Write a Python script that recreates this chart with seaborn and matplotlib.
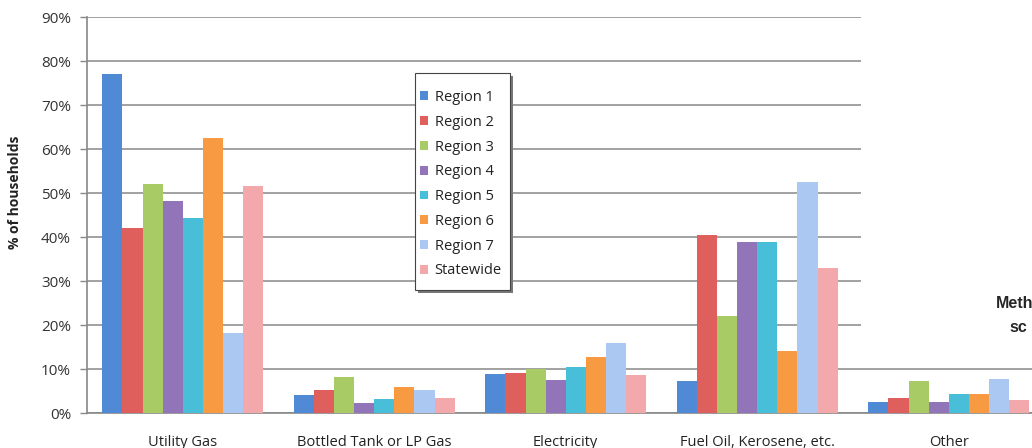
import pandas as pd
import matplotlib.pyplot as plt
import matplotlib.patches as mpatches
import seaborn as sns

categories = ["Utility Gas", "Bottled Tank or LP Gas", "Electricity",
              "Fuel Oil, Kerosene, etc.", "Other"]
series = ["Region 1", "Region 2", "Region 3", "Region 4",
          "Region 5", "Region 6", "Region 7", "Statewide"]

region1 = [77.1, 4.0, 8.9, 7.3, 2.5]
region2 = [42.0, 5.3, 9.1, 40.4, 3.4]
region3 = [52.0, 8.3, 10.1, 22.1, 7.2]
region4 = [48.3, 2.3, 7.6, 39.0, 2.5]
region5 = [44.3, 3.2, 10.5, 39.0, 4.4]
region6 = [62.6, 5.9, 12.7, 14.2, 4.4]
region7 = [18.2, 5.3, 15.9, 52.6, 7.7]
statewide = [51.7, 3.3, 8.6, 33.0, 3.0]

colors = ["#5089D4", "#DE5F5B", "#A9CB66", "#9274B9",
          "#48BED8", "#F89A42", "#ABC8F2", "#F3A9AC"]

rows = []
for name, vals in zip(series, [region1, region2, region3, region4,
                               region5, region6, region7, statewide]):
    for cat, v in zip(categories, vals):
        rows.append({"category": cat, "series": name, "value": v})
df = pd.DataFrame(rows)

sns.set_theme(style="white")
plt.rcParams['font.family'] = ['Open Sans', 'DejaVu Sans']

fig = plt.figure(figsize=(10.32, 4.48), dpi=100)
ax = fig.add_axes([87 / 1032, 35 / 448, 957.5 / 1032, 395.7 / 448])

sns.barplot(data=df, x="category", y="value", hue="series", order=categories,
            hue_order=series, palette=colors, width=0.84, saturation=1,
            linewidth=0, ax=ax, zorder=3)

ax.set_xlim(-0.5, len(categories) - 0.5)
ax.set_ylim(0, 90)
ax.set_yticks(range(0, 91, 10))
ax.set_yticklabels([f"{t}%" for t in range(0, 91, 10)], fontsize=11, color="#333333")
ax.yaxis.grid(True, color="#9A9A9A", linewidth=1.3, zorder=0)
ax.set_axisbelow(True)

# category labels centred, tick marks at category boundaries
ax.set_xticks(range(len(categories)))
ax.set_xticklabels(categories, fontsize=10.5, color="#222222")
ax.tick_params(axis="x", length=0, pad=15.5)
ax.set_xticks([i + 0.5 for i in range(len(categories) - 1)] + [-0.5], minor=True)
ax.tick_params(axis="x", which="minor", length=4, width=1, color="#888888", direction="out")
ax.tick_params(axis="y", length=5, width=1, color="#888888", direction="out",
               left=True, pad=6.5)

ax.set_xlabel("")
ax.set_ylabel("")
fig.text(15 / 1032, 1 - 192 / 448, "% of households", fontsize=10, fontweight="bold",
         rotation=90, ha="center", va="center", color="#222222")

for side in ["top", "right"]:
    ax.spines[side].set_visible(False)
for side in ["left", "bottom"]:
    ax.spines[side].set_color("#888888")
    ax.spines[side].set_linewidth(1.2)

# legend box: shadow + frame drawn separately, entries placed inside
lx0, ly0, lx1, ly1 = 415, 73, 510, 290
ax.add_patch(mpatches.Rectangle(((lx0 + 3) / 1032, 1 - (ly1 + 3) / 448),
                                (lx1 - lx0) / 1032, (ly1 - ly0) / 448,
                                transform=fig.transFigure, facecolor="#777777",
                                edgecolor="none", zorder=8, clip_on=False))
ax.add_patch(mpatches.Rectangle((lx0 / 1032, 1 - ly1 / 448),
                                (lx1 - lx0) / 1032, (ly1 - ly0) / 448,
                                transform=fig.transFigure, facecolor="white",
                                edgecolor="#444444", linewidth=0.8, zorder=9,
                                clip_on=False))
leg = ax.legend(loc="upper left", bbox_to_anchor=(420 / 1032, 1 - 90 / 448),
                bbox_transform=fig.transFigure, fontsize=10.5, frameon=False,
                handlelength=0.55, handleheight=0.55, handletextpad=0.45,
                labelspacing=0.67, borderpad=0, borderaxespad=0)
for t in leg.get_texts():
    t.set_color("#222222")
leg.set_zorder(10)

# white panel overlapping the right of the chart
fig.patches.append(mpatches.Rectangle((861 / 1032, 1 - 355 / 448), 1, 1,
                                      transform=fig.transFigure,
                                      facecolor="white", edgecolor="none",
                                      zorder=20))
fig.text(996 / 1032, 1 - 303 / 448, "Meth", fontsize=11.5, fontweight="bold",
         family="Liberation Sans", va="center", ha="left", zorder=21)
fig.text(1009 / 1032, 1 - 328 / 448, "sc", fontsize=11.5, fontweight="bold",
         family="Liberation Sans", va="center", ha="left", zorder=21)

fig.savefig("out.png", dpi=100)
